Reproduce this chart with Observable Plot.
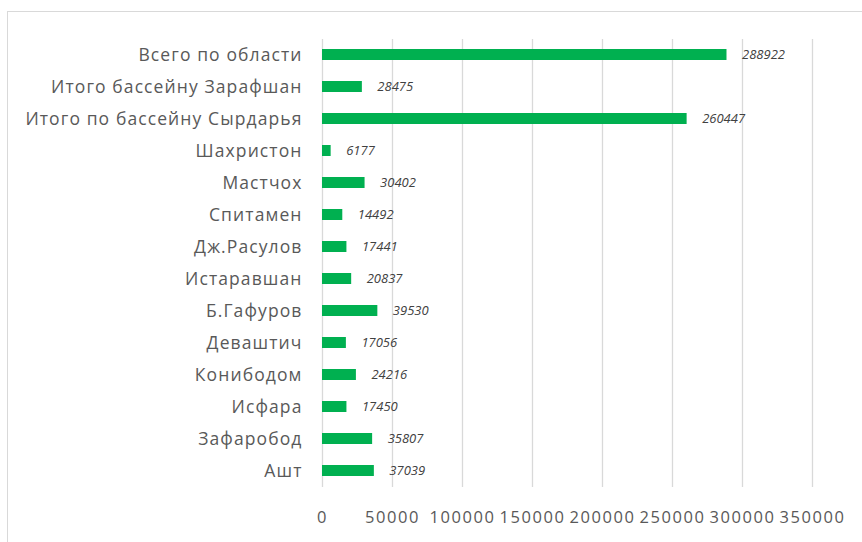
<!DOCTYPE html>
<html>
<head>
<meta charset="utf-8">
<script src="https://cdn.jsdelivr.net/npm/d3@7"></script>
<script src="https://cdn.jsdelivr.net/npm/@observablehq/plot@0.6"></script>
<style>
  html, body { margin: 0; padding: 0; background: #fff; overflow: hidden; }
  #wrap { position: relative; width: 862px; height: 542px; }
  #frame { position: absolute; left: 7px; top: 11px; width: 900px; height: 600px;
           border-left: 1px solid #d9d9d9; border-top: 1px solid #d9d9d9; pointer-events: none; }
  #chart { position: absolute; left: 0; top: 0; }
</style>
</head>
<body>
<div id="wrap"><div id="frame"></div><div id="chart"></div></div>
<script>
const categories = [
  "Всего по области",
  "Итого бассейну Зарафшан",
  "Итого по бассейну Сырдарья",
  "Шахристон",
  "Мастчох",
  "Спитамен",
  "Дж.Расулов",
  "Истаравшан",
  "Б.Гафуров",
  "Деваштич",
  "Конибодом",
  "Исфара",
  "Зафаробод",
  "Ашт"
];
const values = [288922, 28475, 260447, 6177, 30402, 14492, 17441, 20837, 39530, 17056, 24216, 17450, 35807, 37039];
const xTicks = [0, 50000, 100000, 150000, 200000, 250000, 300000, 350000];

const data = categories.map((c, i) => ({category: c, value: values[i]}));

const chart = Plot.plot({
  width: 862,
  height: 542,
  marginLeft: 322,
  marginRight: 50,
  marginTop: 39,
  marginBottom: 55,
  style: {fontFamily: "'Open Sans', sans-serif", background: "transparent"},
  x: {domain: [0, 350000], ticks: xTicks, grid: false},
  y: {domain: categories, paddingInner: 0.656, paddingOuter: 0.328},
  marks: [
    Plot.gridX(xTicks, {stroke: "#d9d9d9", strokeOpacity: 1, strokeWidth: 1.3}),
    Plot.barX(data, {x: "value", y: "category", fill: "#00B050"}),
    Plot.text(data, {x: "value", y: "category", text: d => String(d.value), dx: 15,
      textAnchor: "start", fontStyle: "italic", fontSize: 13, fill: "#404040"}),
    Plot.axisY({tickSize: 0, tickPadding: 20, fontSize: 17.5, color: "#595959", label: null}),
    Plot.axisX(xTicks, {tickSize: 0, tickPadding: 24, fontSize: 16.5, color: "#595959", label: null, tickFormat: d => String(d)})
  ]
});
chart.querySelectorAll('g[aria-label="y-axis tick label"] text').forEach(t => t.setAttribute("letter-spacing", "1.1"));
chart.querySelectorAll('g[aria-label="x-axis tick label"] text').forEach(t => t.setAttribute("letter-spacing", "1.6"));
document.getElementById("chart").appendChild(chart);
</script>
</body>
</html>
